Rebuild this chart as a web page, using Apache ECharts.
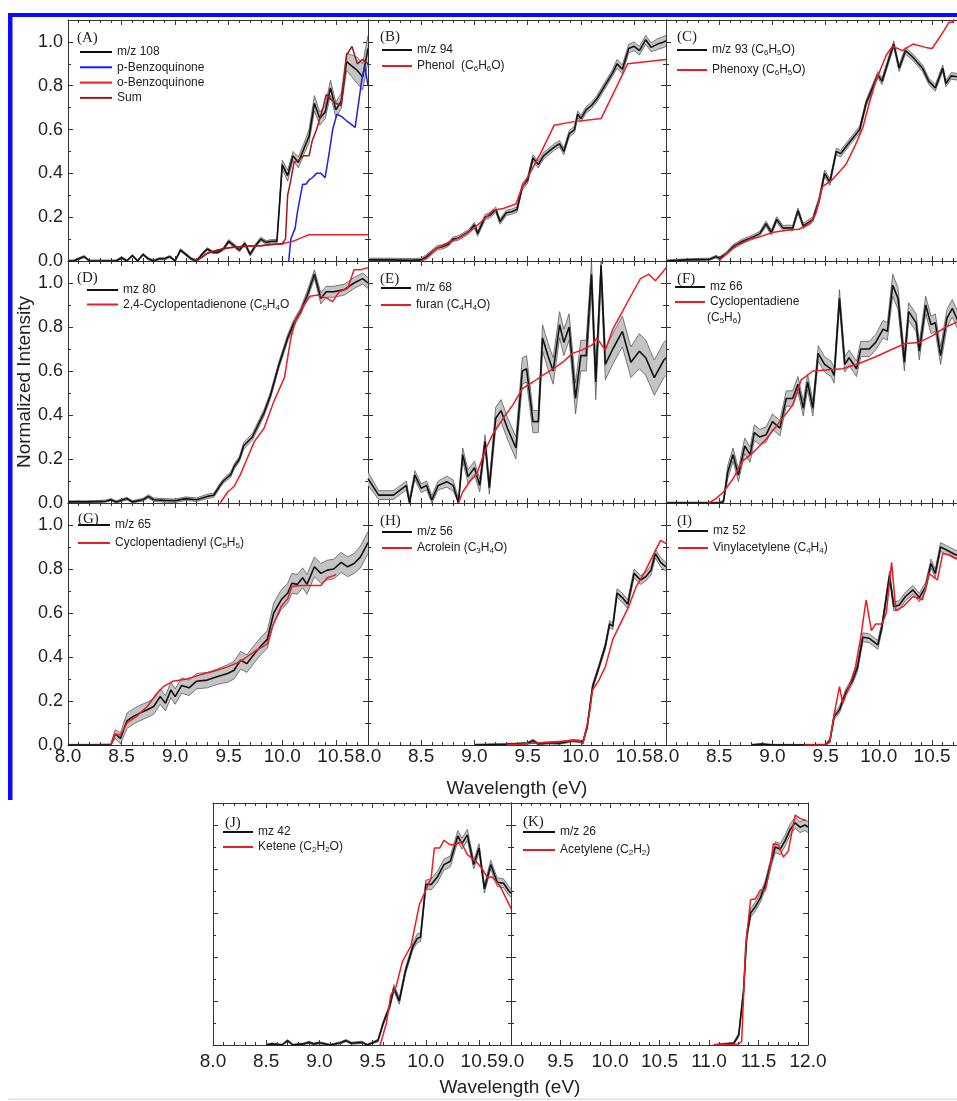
<!DOCTYPE html>
<html><head><meta charset="utf-8">
<script src="https://cdn.jsdelivr.net/npm/echarts@6/dist/echarts.min.js"></script>
<style>html,body{margin:0;padding:0;background:#fff}#c{width:957px;height:1101px}</style>
</head><body><div id="c"></div>
<script>
// ---------- DATA (black series: [eV, value, half-width of grey band]; others: [eV, value]) ----------
const A_mz108 = [[8.00,0.00,0.005],[8.05,0.00,0.005],[8.10,0.01,0.005],[8.15,0.02,0.005],[8.20,0.00,0.005],[8.30,0.00,0.005],[8.40,0.00,0.005],[8.45,0.00,0.005],[8.50,0.015,0.005],[8.55,0.00,0.005],[8.60,0.025,0.005],[8.65,0.00,0.005],[8.70,0.03,0.005],[8.75,0.01,0.005],[8.80,0.00,0.005],[8.85,0.01,0.005],[8.90,0.01,0.005],[8.95,0.02,0.005],[9.00,0.00,0.005],[9.05,0.05,0.006],[9.10,0.03,0.006],[9.15,0.01,0.006],[9.20,0.00,0.006],[9.25,0.03,0.006],[9.30,0.055,0.006],[9.35,0.04,0.006],[9.40,0.04,0.006],[9.45,0.055,0.006],[9.50,0.09,0.008],[9.55,0.07,0.008],[9.60,0.05,0.008],[9.65,0.08,0.008],[9.70,0.03,0.008],[9.75,0.07,0.008],[9.80,0.10,0.008],[9.85,0.085,0.008],[9.90,0.09,0.008],[9.95,0.09,0.008],[10.00,0.44,0.02],[10.05,0.39,0.025],[10.10,0.48,0.02],[10.15,0.45,0.025],[10.20,0.51,0.025],[10.25,0.57,0.03],[10.30,0.72,0.035],[10.35,0.65,0.03],[10.40,0.68,0.03],[10.45,0.79,0.035],[10.50,0.69,0.035],[10.55,0.73,0.035],[10.60,0.91,0.04],[10.65,0.89,0.05],[10.70,0.87,0.06],[10.75,0.84,0.06],[10.80,0.97,0.06]];
const A_pBQ = [[10.06,0.0],[10.08,0.1],[10.12,0.15],[10.14,0.22],[10.17,0.3],[10.19,0.35],[10.22,0.35],[10.25,0.37],[10.28,0.38],[10.32,0.4],[10.36,0.4],[10.40,0.38],[10.44,0.5],[10.47,0.6],[10.51,0.67],[10.55,0.66],[10.60,0.64],[10.68,0.61],[10.74,0.82],[10.77,0.89],[10.80,0.8]];
const A_oBQ = [[9.20,0.0],[9.30,0.035],[9.40,0.05],[9.50,0.06],[9.60,0.065],[9.70,0.068],[9.80,0.07],[9.90,0.075],[10.00,0.078],[10.05,0.085],[10.10,0.09],[10.15,0.10],[10.20,0.11],[10.25,0.12],[10.40,0.12],[10.60,0.12],[10.80,0.12]];
const A_sum = [[9.20,0.0],[9.30,0.035],[9.40,0.05],[9.50,0.06],[9.60,0.065],[9.70,0.068],[9.80,0.07],[9.90,0.075],[10.00,0.08],[10.03,0.1],[10.05,0.3],[10.08,0.37],[10.11,0.45],[10.15,0.46],[10.20,0.48],[10.25,0.48],[10.28,0.55],[10.32,0.6],[10.38,0.7],[10.41,0.76],[10.45,0.74],[10.50,0.72],[10.55,0.71],[10.60,0.94],[10.65,0.98],[10.70,0.9],[10.75,0.92],[10.80,0.9]];

const B_mz94 = [[8.00,0.005,0.008],[8.20,0.005,0.008],[8.40,0.003,0.008],[8.50,0.005,0.008],[8.55,0.02,0.01],[8.60,0.04,0.01],[8.65,0.06,0.01],[8.70,0.065,0.01],[8.75,0.075,0.01],[8.80,0.10,0.01],[8.85,0.105,0.01],[8.90,0.12,0.01],[8.95,0.135,0.01],[9.00,0.165,0.012],[9.03,0.125,0.012],[9.10,0.20,0.012],[9.15,0.21,0.012],[9.20,0.235,0.012],[9.24,0.18,0.012],[9.30,0.22,0.012],[9.35,0.225,0.012],[9.40,0.235,0.012],[9.45,0.34,0.015],[9.50,0.37,0.015],[9.55,0.47,0.015],[9.60,0.44,0.015],[9.65,0.48,0.015],[9.70,0.50,0.015],[9.75,0.52,0.015],[9.80,0.535,0.015],[9.84,0.50,0.015],[9.89,0.58,0.015],[9.94,0.60,0.015],[9.97,0.67,0.015],[10.00,0.65,0.015],[10.05,0.69,0.015],[10.10,0.71,0.015],[10.15,0.74,0.015],[10.20,0.78,0.015],[10.25,0.82,0.015],[10.30,0.86,0.015],[10.34,0.90,0.02],[10.39,0.875,0.02],[10.45,0.97,0.02],[10.50,0.98,0.02],[10.55,0.96,0.02],[10.61,1.01,0.02],[10.66,0.975,0.02],[10.72,0.99,0.025],[10.78,1.00,0.025],[10.80,1.005,0.025]];
const B_phenol = [[8.50,0.0],[8.55,0.012],[8.64,0.057],[8.74,0.08],[8.83,0.10],[8.92,0.125],[9.00,0.15],[9.11,0.20],[9.17,0.23],[9.27,0.24],[9.39,0.26],[9.45,0.34],[9.52,0.40],[9.62,0.49],[9.75,0.62],[9.92,0.635],[10.19,0.65],[10.44,0.90],[10.80,0.92]];

const C_mz93 = [[8.00,0.0,0.005],[8.19,0.005,0.005],[8.41,0.008,0.005],[8.47,0.02,0.006],[8.50,0.012,0.006],[8.57,0.035,0.008],[8.63,0.065,0.01],[8.72,0.09,0.01],[8.82,0.11,0.01],[8.88,0.125,0.01],[8.94,0.17,0.012],[8.99,0.13,0.012],[9.04,0.19,0.012],[9.10,0.15,0.012],[9.15,0.152,0.012],[9.19,0.15,0.012],[9.24,0.23,0.012],[9.29,0.16,0.012],[9.38,0.19,0.012],[9.44,0.28,0.015],[9.49,0.40,0.015],[9.54,0.36,0.015],[9.60,0.50,0.015],[9.64,0.49,0.015],[9.72,0.54,0.015],[9.82,0.60,0.015],[9.88,0.72,0.015],[9.94,0.79,0.015],[9.99,0.85,0.015],[10.03,0.82,0.015],[10.10,0.93,0.015],[10.14,0.99,0.015],[10.19,0.88,0.015],[10.25,0.96,0.015],[10.32,0.93,0.015],[10.41,0.88,0.015],[10.47,0.82,0.015],[10.53,0.79,0.015],[10.60,0.88,0.015],[10.63,0.81,0.015],[10.68,0.845,0.015],[10.75,0.84,0.015],[10.80,0.83,0.015]];
const C_phenoxy = [[8.50,0.0],[8.57,0.035],[8.66,0.07],[8.79,0.10],[8.88,0.11],[9.00,0.13],[9.13,0.14],[9.25,0.145],[9.35,0.17],[9.41,0.22],[9.47,0.34],[9.56,0.37],[9.69,0.44],[9.78,0.53],[9.85,0.61],[9.91,0.72],[9.97,0.82],[10.07,0.94],[10.13,0.98],[10.22,0.96],[10.32,0.99],[10.44,0.975],[10.50,0.97],[10.57,1.02],[10.61,1.05],[10.66,1.09],[10.69,1.09],[10.75,1.14]];

const D_mz80 = [[8.00,0.005,0.005],[8.20,0.005,0.005],[8.35,0.008,0.005],[8.40,0.015,0.005],[8.45,0.005,0.005],[8.55,0.02,0.006],[8.60,0.005,0.006],[8.70,0.015,0.006],[8.75,0.03,0.008],[8.80,0.015,0.008],[8.90,0.012,0.008],[9.00,0.01,0.008],[9.10,0.02,0.008],[9.20,0.015,0.008],[9.30,0.03,0.01],[9.36,0.035,0.01],[9.42,0.08,0.01],[9.45,0.10,0.01],[9.52,0.13,0.012],[9.55,0.165,0.012],[9.60,0.20,0.012],[9.64,0.26,0.015],[9.72,0.30,0.015],[9.77,0.35,0.015],[9.83,0.41,0.015],[9.89,0.49,0.015],[9.97,0.63,0.015],[10.05,0.75,0.015],[10.11,0.82,0.015],[10.17,0.87,0.015],[10.23,0.94,0.02],[10.30,1.04,0.02],[10.36,0.93,0.025],[10.41,0.96,0.025],[10.48,0.96,0.025],[10.58,0.97,0.025],[10.67,1.00,0.025],[10.75,1.02,0.025],[10.80,1.00,0.025]];
const D_cpdo = [[9.42,0.0],[9.49,0.05],[9.55,0.075],[9.61,0.13],[9.67,0.20],[9.74,0.28],[9.83,0.34],[9.92,0.46],[10.02,0.57],[10.08,0.75],[10.13,0.84],[10.20,0.90],[10.26,0.94],[10.33,0.945],[10.42,0.93],[10.47,0.915],[10.53,0.96],[10.61,0.975],[10.67,1.06],[10.73,1.06],[10.80,1.07]];

const E_mz68 = [[8.00,0.11,0.03],[8.10,0.036,0.02],[8.24,0.036,0.02],[8.36,0.08,0.02],[8.39,0.0,0.02],[8.44,0.127,0.02],[8.50,0.067,0.02],[8.55,0.08,0.02],[8.60,0.014,0.02],[8.66,0.08,0.02],[8.74,0.097,0.025],[8.80,0.08,0.025],[8.85,0.0,0.02],[8.89,0.22,0.03],[8.94,0.12,0.03],[9.00,0.16,0.03],[9.05,0.08,0.03],[9.10,0.28,0.03],[9.14,0.07,0.03],[9.20,0.385,0.05],[9.25,0.42,0.05],[9.31,0.34,0.05],[9.39,0.25,0.05],[9.45,0.60,0.06],[9.49,0.61,0.06],[9.55,0.37,0.05],[9.60,0.37,0.05],[9.64,0.75,0.06],[9.69,0.67,0.06],[9.74,0.60,0.06],[9.80,0.81,0.06],[9.84,0.73,0.06],[9.89,0.80,0.06],[9.95,0.475,0.07],[10.00,0.67,0.07],[10.05,0.67,0.07],[10.10,1.04,0.08],[10.14,0.55,0.08],[10.19,1.08,0.08],[10.23,0.63,0.07],[10.30,0.70,0.07],[10.39,0.78,0.07],[10.47,0.64,0.07],[10.55,0.69,0.08],[10.61,0.66,0.08],[10.69,0.57,0.08],[10.78,0.65,0.08],[10.80,0.66,0.08]];
const E_furan = [[8.85,0.0],[8.89,0.05],[8.96,0.10],[9.02,0.13],[9.11,0.25],[9.17,0.31],[9.27,0.385],[9.36,0.445],[9.45,0.52],[9.55,0.55],[9.64,0.58],[9.74,0.61],[9.83,0.64],[9.92,0.68],[10.01,0.695],[10.11,0.72],[10.15,0.75],[10.23,0.695],[10.30,0.79],[10.39,0.87],[10.48,0.95],[10.56,1.02],[10.64,1.04],[10.70,1.01],[10.77,1.05],[10.80,1.07]];

const F_mz66 = [[8.00,0.0,0.004],[8.30,0.0,0.004],[8.50,0.0,0.004],[8.54,0.006,0.01],[8.58,0.14,0.03],[8.63,0.22,0.03],[8.68,0.127,0.03],[8.74,0.26,0.035],[8.79,0.22,0.035],[8.83,0.32,0.035],[8.88,0.30,0.035],[8.94,0.31,0.035],[9.00,0.37,0.035],[9.07,0.34,0.035],[9.13,0.475,0.035],[9.19,0.475,0.035],[9.24,0.54,0.035],[9.29,0.43,0.035],[9.33,0.55,0.035],[9.38,0.43,0.035],[9.43,0.68,0.035],[9.49,0.63,0.035],[9.55,0.61,0.035],[9.58,0.58,0.035],[9.63,0.93,0.04],[9.68,0.63,0.035],[9.72,0.66,0.035],[9.79,0.61,0.035],[9.83,0.70,0.035],[9.91,0.70,0.035],[9.97,0.73,0.035],[10.04,0.79,0.04],[10.08,0.78,0.04],[10.13,0.99,0.05],[10.18,0.93,0.05],[10.24,0.64,0.04],[10.28,0.87,0.04],[10.35,0.82,0.04],[10.38,0.69,0.04],[10.44,0.90,0.04],[10.49,0.81,0.04],[10.53,0.82,0.04],[10.58,0.67,0.04],[10.64,0.84,0.04],[10.69,0.885,0.04],[10.75,0.82,0.04],[10.80,0.85,0.04]];
const F_cpd = [[8.40,0.0],[8.47,0.02],[8.54,0.05],[8.63,0.11],[8.72,0.19],[8.82,0.23],[8.94,0.29],[9.07,0.37],[9.19,0.445],[9.27,0.56],[9.38,0.60],[9.50,0.605],[9.66,0.61],[9.82,0.635],[9.97,0.665],[10.13,0.70],[10.25,0.725],[10.38,0.73],[10.50,0.76],[10.63,0.80],[10.72,0.82],[10.80,0.83]];

const G_mz65 = [[8.00,0.0,0.003],[8.20,0.0,0.003],[8.40,0.0,0.005],[8.44,0.05,0.02],[8.49,0.03,0.025],[8.55,0.11,0.035],[8.61,0.13,0.035],[8.67,0.145,0.035],[8.74,0.16,0.035],[8.80,0.175,0.035],[8.86,0.22,0.035],[8.91,0.19,0.035],[8.96,0.25,0.035],[9.00,0.22,0.035],[9.06,0.27,0.035],[9.13,0.26,0.035],[9.20,0.29,0.035],[9.30,0.295,0.035],[9.39,0.31,0.035],[9.49,0.325,0.04],[9.55,0.34,0.04],[9.61,0.385,0.04],[9.67,0.37,0.04],[9.74,0.415,0.04],[9.80,0.45,0.04],[9.86,0.48,0.04],[9.92,0.60,0.045],[9.99,0.66,0.045],[10.05,0.69,0.045],[10.09,0.735,0.045],[10.14,0.73,0.045],[10.19,0.76,0.045],[10.23,0.73,0.045],[10.30,0.81,0.045],[10.36,0.78,0.045],[10.42,0.795,0.045],[10.48,0.80,0.045],[10.55,0.83,0.045],[10.61,0.81,0.045],[10.67,0.825,0.045],[10.73,0.855,0.05],[10.80,0.92,0.05]];
const G_cpdyl = [[8.40,0.0],[8.44,0.05],[8.49,0.045],[8.55,0.10],[8.64,0.13],[8.74,0.175],[8.83,0.235],[8.89,0.265],[8.98,0.29],[9.11,0.30],[9.24,0.32],[9.36,0.335],[9.49,0.355],[9.61,0.38],[9.74,0.425],[9.86,0.46],[9.91,0.54],[9.99,0.63],[10.05,0.665],[10.09,0.72],[10.17,0.725],[10.27,0.725],[10.36,0.725],[10.42,0.76],[10.48,0.77],[10.50,0.775]];

const H_mz56 = [[9.00,0.0,0.004],[9.30,0.003,0.004],[9.40,0.005,0.004],[9.50,0.008,0.005],[9.55,0.02,0.006],[9.60,0.005,0.005],[9.70,0.01,0.005],[9.80,0.008,0.005],[9.92,0.02,0.006],[10.02,0.015,0.006],[10.06,0.083,0.01],[10.11,0.265,0.012],[10.17,0.355,0.012],[10.23,0.45,0.015],[10.27,0.55,0.015],[10.30,0.54,0.015],[10.34,0.69,0.02],[10.39,0.67,0.02],[10.44,0.64,0.02],[10.50,0.78,0.02],[10.56,0.75,0.02],[10.61,0.765,0.02],[10.66,0.795,0.02],[10.70,0.87,0.02],[10.75,0.83,0.02],[10.80,0.81,0.02]];
const H_acrolein = [[9.30,0.0],[9.55,0.008],[9.70,0.012],[9.85,0.018],[9.97,0.02],[10.02,0.005],[10.08,0.14],[10.11,0.25],[10.17,0.295],[10.23,0.355],[10.30,0.48],[10.39,0.57],[10.45,0.63],[10.52,0.72],[10.61,0.795],[10.67,0.855],[10.75,0.93],[10.80,0.915]];

const I_mz52 = [[8.80,0.0,0.003],[8.90,0.004,0.003],[9.00,0.0,0.003],[9.30,0.0,0.003],[9.50,0.0,0.004],[9.54,0.02,0.01],[9.58,0.13,0.015],[9.63,0.16,0.015],[9.69,0.24,0.015],[9.75,0.29,0.015],[9.80,0.355,0.02],[9.85,0.49,0.02],[9.91,0.485,0.02],[9.99,0.455,0.02],[10.03,0.54,0.02],[10.10,0.77,0.02],[10.14,0.63,0.02],[10.19,0.635,0.02],[10.25,0.675,0.02],[10.32,0.705,0.02],[10.38,0.67,0.02],[10.44,0.72,0.02],[10.49,0.825,0.02],[10.53,0.78,0.02],[10.58,0.90,0.02],[10.64,0.885,0.02],[10.72,0.865,0.02],[10.80,0.86,0.02]];
const I_vinyl = [[9.30,0.0],[9.50,0.0],[9.54,0.015],[9.58,0.14],[9.63,0.265],[9.66,0.19],[9.72,0.265],[9.78,0.355],[9.83,0.49],[9.88,0.66],[9.93,0.52],[9.97,0.55],[10.03,0.55],[10.07,0.60],[10.12,0.83],[10.16,0.61],[10.23,0.63],[10.32,0.675],[10.41,0.66],[10.47,0.78],[10.55,0.75],[10.60,0.87],[10.66,0.865],[10.72,0.85],[10.80,0.84]];

const J_mz42 = [[8.50,0.0,0.004],[8.55,0.005,0.004],[8.65,0.0,0.004],[8.70,0.02,0.005],[8.75,0.0,0.004],[8.85,0.005,0.004],[8.90,0.012,0.005],[8.95,0.005,0.004],[9.00,0.01,0.005],[9.10,0.0,0.004],[9.20,0.01,0.005],[9.25,0.02,0.005],[9.30,0.008,0.005],[9.40,0.012,0.005],[9.45,0.0,0.004],[9.55,0.02,0.006],[9.60,0.10,0.01],[9.66,0.175,0.012],[9.70,0.26,0.015],[9.75,0.20,0.015],[9.81,0.34,0.015],[9.88,0.45,0.015],[9.92,0.485,0.02],[9.95,0.49,0.02],[10.00,0.73,0.02],[10.05,0.73,0.025],[10.11,0.765,0.025],[10.17,0.82,0.025],[10.23,0.835,0.025],[10.30,0.95,0.025],[10.34,0.915,0.025],[10.39,0.955,0.025],[10.45,0.82,0.02],[10.50,0.895,0.02],[10.55,0.71,0.02],[10.61,0.82,0.02],[10.67,0.74,0.02],[10.73,0.735,0.02],[10.78,0.70,0.02],[10.80,0.69,0.02]];
const J_ketene = [[9.57,0.0],[9.63,0.10],[9.67,0.227],[9.72,0.265],[9.78,0.38],[9.86,0.45],[9.94,0.64],[10.00,0.705],[10.05,0.76],[10.08,0.895],[10.13,0.895],[10.17,0.93],[10.23,0.91],[10.28,0.91],[10.33,0.925],[10.39,0.865],[10.47,0.835],[10.53,0.80],[10.58,0.76],[10.62,0.765],[10.70,0.72],[10.78,0.64],[10.80,0.62]];

const K_mz26 = [[11.05,0.0,0.003],[11.25,0.008,0.004],[11.30,0.045,0.01],[11.35,0.25,0.015],[11.38,0.49,0.02],[11.42,0.60,0.02],[11.47,0.63,0.02],[11.52,0.67,0.02],[11.57,0.73,0.02],[11.62,0.82,0.02],[11.67,0.90,0.025],[11.72,0.89,0.025],[11.77,0.93,0.025],[11.82,0.98,0.025],[11.87,1.01,0.025],[11.92,0.99,0.025],[11.97,1.00,0.025],[12.00,0.99,0.025]];
const K_acetylene = [[11.05,0.0],[11.30,0.005],[11.33,0.015],[11.37,0.45],[11.42,0.66],[11.47,0.665],[11.52,0.705],[11.57,0.705],[11.62,0.81],[11.65,0.915],[11.70,0.91],[11.75,0.855],[11.80,0.88],[11.87,1.045],[11.92,1.03],[11.98,1.02]];

const yTicks = [0, 0.2, 0.4, 0.6, 0.8, 1.0];
const xTicksMain = [8.0, 8.5, 9.0, 9.5, 10.0, 10.5];
const xTicksK = [9.0, 9.5, 10.0, 10.5, 11.0, 11.5, 12.0];

// ---------- LAYOUT / STYLE ----------
const BLACK = '#111', RED = '#ec1c24', BLUE = '#1e1ee6', DARKRED = '#a3161b';
const SANS = '"Liberation Sans", Arial, Helvetica, sans-serif';
const SERIF = '"Liberation Serif", "Times New Roman", serif';
const TXT = '#222';

const panels = [
 {g:[68,20,300,241], xr:[8,10.8], yl:true, lab:'(A)', lx:77, ly:38, black:['m/z 108', A_mz108],
  lines:[['p-Benzoquinone', A_pBQ, BLUE], ['o-Benzoquinone', A_oBQ, RED], ['Sum', A_sum, DARKRED]], lg:[80,45,1.3,32]},
 {g:[368,20,298,241], xr:[8,10.8], lab:'(B)', lx:380, ly:37, black:['m/z 94', B_mz94], lines:[['Phenol  (C6H6O)', B_phenol, RED]], lg:[382,43,2,30]},
 {g:[666,20,298,241], xr:[8,10.8], lab:'(C)', lx:677, ly:37, black:['m/z 93 (C6H5O)', C_mz93], lines:[['Phenoxy (C6H5O)', C_phenoxy, RED]], lg:[677,43,6,30]},
 {g:[68,261,300,242], xr:[8,10.8], yl:true, yname:true, lab:'(D)', lx:77, ly:278, black:['mz 80', D_mz80], lines:[['2,4-Cyclopentadienone (C5H4O', D_cpdo, RED]], lg:[87,283,0.5,31]},
 {g:[368,261,298,242], xr:[8,10.8], lab:'(E)', lx:380, ly:279, black:['m/z 68', E_mz68], lines:[['furan (C4H4O)', E_furan, RED]], lg:[381,281,3,30]},
 {g:[666,261,298,242], xr:[8,10.8], lab:'(F)', lx:677, ly:279, black:['mz 66', F_mz66], lines:[['Cyclopentadiene', F_cpd, RED]], lg:[675,280,1,30]},
 {g:[68,503,300,242], xr:[8,10.8], xl:true, xm:2, yl:true, lab:'(G)', lx:78, ly:519, black:['m/z 65', G_mz65], lines:[['Cyclopentadienyl (C5H5)', G_cpdyl, RED]], lg:[78,518,4,32]},
 {g:[368,503,298,242], xr:[8,10.8], xl:true, xm:2, xname:true, lab:'(H)', lx:380, ly:521, black:['m/z 56', H_mz56], lines:[['Acrolein (C3H4O)', H_acrolein, RED]], lg:[382,525,2,30]},
 {g:[666,503,298,242], xr:[8,10.8], xl:true, xm:2, lab:'(I)', lx:677, ly:521, black:['mz 52', I_mz52], lines:[['Vinylacetylene (C4H4)', I_vinyl, RED]], lg:[678,524,3,30]},
 {g:[213,803,298,242], xr:[8,10.8], xl:true, xm:7, lab:'(J)', lx:225, ly:823, black:['mz 42', J_mz42], lines:[['Ketene (C2H2O)', J_ketene, RED]], lg:[223,825,1,30]},
 {g:[511,803,297,242], xr:[9,12], xl:true, xm:7, ticks:xTicksK, lab:'(K)', lx:523, ly:822, black:['m/z 26', K_mz26], lines:[['Acetylene (C2H2)', K_acetylene, RED]], lg:[523,825,4,32]}
];

function sub(name){ return name.replace(/([CHO])(\d)/g, '$1{s|$2}'); }
const richSub = { s: { fontSize: 8, lineHeight: 6, verticalAlign: 'bottom', fontFamily: SANS, color: TXT } };

function isTick(v, list){ return list.some(t => Math.abs(t - v) < 1e-6); }

const grid = [], xAxis = [], yAxis = [], series = [], legend = [], graphic = [];

// faint bottom frame line (drawn first, beneath texts)
graphic.push({type:'rect', shape:{x:8, y:1098.5, width:960, height:1.5}, style:{fill:'#dcdcfa'}, z:0, silent:true});

panels.forEach((p, i) => {
  grid.push({left:p.g[0], top:p.g[1], width:p.g[2], height:p.g[3], containLabel:false, outerBoundsMode:'none'});
  const xt = p.ticks || xTicksMain;
  ['bottom','top'].forEach(pos => {
    const ax = {
      type:'value', gridIndex:i, position:pos, min:p.xr[0], max:p.xr[1], interval:0.5,
      axisLine:{show:true, onZero:false, lineStyle:{color:'#333', width:1}},
      axisTick:{show:true, inside:true, length:5, lineStyle:{color:'#333', width:1}},
      minorTick:{show:true, splitNumber:5, length:3, lineStyle:{color:'#333', width:1}},
      splitLine:{show:false}, minorSplitLine:{show:false},
      axisLabel:{show: pos==='bottom' && !!p.xl, margin: p.xm || 3, fontSize:19, color:TXT, fontFamily:SANS,
        formatter: v => isTick(v, xt) ? v.toFixed(1) : ''}
    };
    if (pos==='bottom' && p.xname) {
      ax.name = 'Wavelength (eV)'; ax.nameLocation = 'middle'; ax.nameGap = 34;
      ax.nameTextStyle = {fontSize:19, color:TXT, fontFamily:SANS};
    }
    xAxis.push(ax);
  });
  ['left','right'].forEach(pos => {
    const ax = {
      type:'value', gridIndex:i, position:pos, min:0, max:1.1, interval:0.2,
      axisLine:{show:true, onZero:false, lineStyle:{color:'#333', width:1}},
      axisTick:{show:true, inside:true, length:5, lineStyle:{color:'#333', width:1}},
      minorTick:{show:true, splitNumber:2, length:3, lineStyle:{color:'#333', width:1}},
      splitLine:{show:false}, minorSplitLine:{show:false},
      axisLabel:{show: pos==='left' && !!p.yl, margin:5, fontSize:18, color:TXT, fontFamily:SANS,
        formatter: v => isTick(v, yTicks) ? v.toFixed(1) : ''}
    };
    if (pos==='left' && p.yname) {
      ax.name = 'Normalized Intensity'; ax.nameLocation = 'middle'; ax.nameGap = 31;
      ax.nameTextStyle = {fontSize:19, color:TXT, fontFamily:SANS};
    }
    yAxis.push(ax);
  });

  const tri = p.black[1];
  // grey uncertainty band
  series.push({
    type:'custom', xAxisIndex:2*i, yAxisIndex:2*i, clip:true, silent:true, z:1,
    data:[[tri[0][0], tri[0][1]]],
    renderItem: function(params, api){
      const up = tri.map(t => api.coord([t[0], Math.min(1.1, t[1] + t[2])]));
      const lo = tri.map(t => api.coord([t[0], Math.max(0, t[1] - t[2])]));
      return {type:'group', children:[
        {type:'polygon', shape:{points: up.concat(lo.slice().reverse())}, style:{fill:'#c4c4c4'}},
        {type:'polyline', shape:{points: up}, style:{fill:null, stroke:'#4a4a4a', lineWidth:0.7}},
        {type:'polyline', shape:{points: lo}, style:{fill:null, stroke:'#4a4a4a', lineWidth:0.7}}
      ]};
    }
  });
  series.push({
    type:'line', name:p.black[0], xAxisIndex:2*i, yAxisIndex:2*i, data: tri.map(t => [t[0], t[1]]),
    symbol:'none', color:BLACK, itemStyle:{color:BLACK}, lineStyle:{color:BLACK, width:1.6}, z:3, silent:true, animation:false
  });
  p.lines.forEach(l => {
    series.push({
      type:'line', name:l[0], xAxisIndex:2*i, yAxisIndex:2*i, data:l[1],
      symbol:'none', color:l[2], itemStyle:{color:l[2]}, lineStyle:{color:l[2], width:1.5}, z:4, silent:true, animation:false
    });
  });
  legend.push({
    left:p.lg[0], top:p.lg[1], itemGap:p.lg[2], itemWidth:p.lg[3], itemHeight:2, padding:0,
    orient:'vertical', selectedMode:false, icon:'rect',
    itemStyle:{borderWidth:0},
    data:[p.black[0]].concat(p.lines.map(l => l[0])),
    formatter: sub,
    textStyle:{fontSize:12, lineHeight:14, color:TXT, fontFamily:SANS, rich:richSub}
  });
  graphic.push({type:'text', x:p.lx, y:p.ly, silent:true, z:10,
    style:{text:p.lab, fontSize:15, fontFamily:SERIF, fill:TXT, align:'left', verticalAlign:'middle'}});
});

// extra texts
graphic.push({type:'text', x:707, y:318, silent:true, z:10,
  style:{text:'(C{s|5}H{s|6})', fontSize:12, lineHeight:14, fontFamily:SANS, fill:TXT, align:'left', verticalAlign:'middle', rich:richSub}});
graphic.push({type:'text', x:510, y:1088, silent:true, z:10,
  style:{text:'Wavelength (eV)', fontSize:19, fontFamily:SANS, fill:TXT, align:'center', verticalAlign:'middle'}});
// blue frame
graphic.push({type:'rect', shape:{x:8, y:13, width:960, height:4}, style:{fill:'#0a0aff'}, z:100, silent:true});
graphic.push({type:'rect', shape:{x:8, y:13, width:4.5, height:787}, style:{fill:'#0a0aff'}, z:100, silent:true});

const chart = echarts.init(document.getElementById('c'), null, {renderer:'canvas'});
chart.setOption({
  backgroundColor:'#fff', animation:false, tooltip:{show:false},
  grid, xAxis, yAxis, series, legend, graphic
});
</script></body></html>
